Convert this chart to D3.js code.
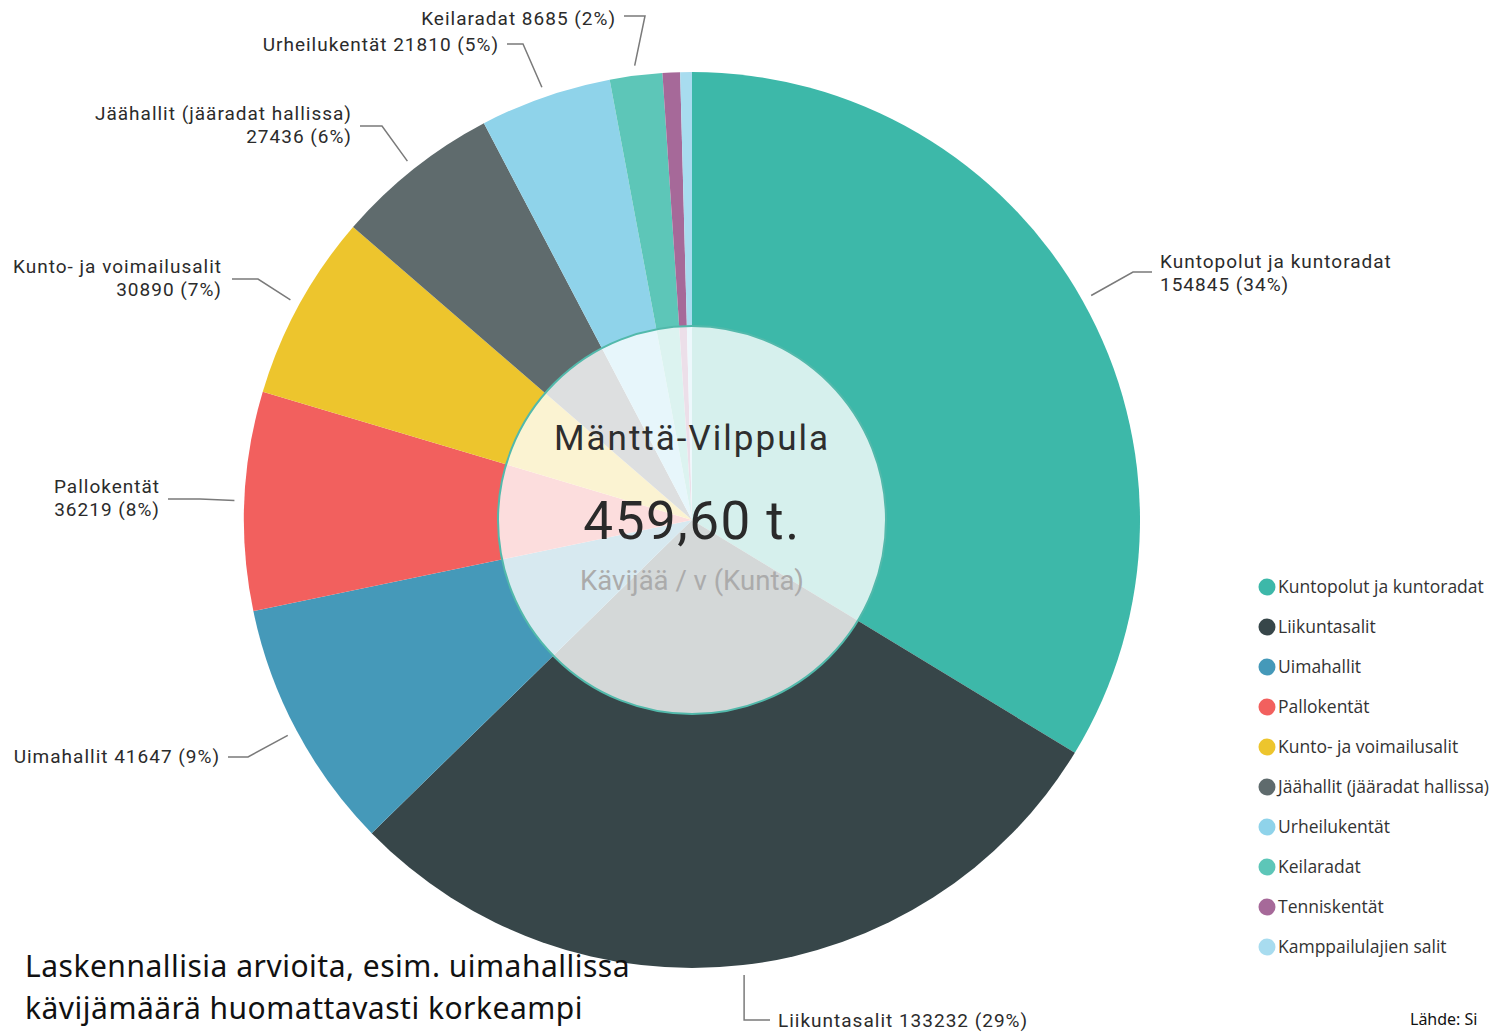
<!doctype html>
<html>
<head>
<meta charset="utf-8">
<script src="https://cdnjs.cloudflare.com/ajax/libs/d3/7.8.5/d3.min.js"></script>
<style>
  html, body { margin: 0; padding: 0; background: #fff; }
  svg { display: block; }
  .lbl { font-family: Roboto, 'DejaVu Sans Condensed', sans-serif; font-size: 19px; letter-spacing: 1px; fill: #2b2b2b; }
  .legend text { font-family: 'Open Sans', 'Noto Sans', sans-serif; font-size: 17.5px; fill: #333; }
</style>
</head>
<body>
<div id="graph"></div>
<script>
// data
const categories = ['Kuntopolut ja kuntoradat', 'Liikuntasalit', 'Uimahallit', 'Pallokentät',
  'Kunto- ja voimailusalit', 'Jäähallit (jääradat hallissa)', 'Urheilukentät', 'Keilaradat',
  'Tenniskentät', 'Kamppailulajien salit']
const values = [154845, 133232, 41647, 36219, 30890, 27436, 21810, 8685, 2900, 1936]
// label text split into lines (only the labelled slices)
const labelLines = [
  ['Kuntopolut ja kuntoradat', '154845 (34%)'],
  ['Liikuntasalit 133232 (29%)'],
  ['Uimahallit 41647 (9%)'],
  ['Pallokentät', '36219 (8%)'],
  ['Kunto- ja voimailusalit', '30890 (7%)'],
  ['Jäähallit (jääradat hallissa)', '27436 (6%)'],
  ['Urheilukentät 21810 (5%)'],
  ['Keilaradat 8685 (2%)']
]
const colors = ['#3db8a9', '#374649', '#4599b9', '#f2605e', '#edc52d', '#5f6b6d',
  '#8fd3ea', '#5dc6b8', '#a66999', '#a8dcef']
const centerTitle = 'Mänttä-Vilppula'
const centerValue = '459,60 t.'
const centerSub = 'Kävijää / v (Kunta)'
const note = ['Laskennallisia arvioita, esim. uimahallissa', 'kävijämäärä huomattavasti korkeampi']

// label layout: knee point, line end, text x / anchor, first line y
const labelPos = [
  { kx: 1133, ky: 272, ex: 1152, tx: 1160, anchor: 'start', ty: 261 },
  { kx: null, ky: 1020, ex: 770, tx: 778, anchor: 'start', ty: 1020 },
  { kx: 248, ky: 757, ex: 228, tx: 220, anchor: 'end', ty: 756 },
  { kx: 200, ky: 499, ex: 168, tx: 160, anchor: 'end', ty: 486 },
  { kx: 258, ky: 279, ex: 232, tx: 222, anchor: 'end', ty: 266 },
  { kx: 382, ky: 126, ex: 360, tx: 352, anchor: 'end', ty: 113 },
  { kx: 523, ky: 44, ex: 507, tx: 499, anchor: 'end', ty: 44 },
  { kx: 645, ky: 16, ex: 624, tx: 616, anchor: 'end', ty: 18 }
]

const W = 1494, H = 1033
const cx = 692, cy = 520, radius = 448, innerR = 194

const svg = d3.select('#graph').append('svg')
  .attr('width', W).attr('height', H)

const pie = d3.pie().sort(null).value(d => d)
const arcs = pie(values)
const arc = d3.arc().innerRadius(0).outerRadius(radius)
const outer = d3.arc().innerRadius(radius + 10).outerRadius(radius + 10)

const chart = svg.append('g').attr('transform', `translate(${cx},${cy})`)

chart.selectAll('path.slice')
  .data(arcs)
  .enter()
  .append('path')
  .attr('class', 'slice')
  .attr('d', arc)
  .attr('fill', (d, i) => colors[i])

// centre overlay
chart.append('circle')
  .attr('r', innerR)
  .attr('fill', '#fff')
  .attr('fill-opacity', 0.79)
  .attr('stroke', '#52b9ab')
  .attr('stroke-width', 2)

chart.append('text').text(centerTitle)
  .attr('y', -70).attr('text-anchor', 'middle')
  .style('font-family', 'Roboto, sans-serif').style('font-size', '35px')
  .style('fill', '#2e2e2e').style('letter-spacing', '2px')

chart.append('text').text(centerValue)
  .attr('y', 19).attr('text-anchor', 'middle')
  .style('font-family', 'Roboto, sans-serif').style('font-size', '53px')
  .style('fill', '#2a2a2a').style('letter-spacing', '1.5px')

chart.append('text').text(centerSub)
  .attr('y', 70).attr('text-anchor', 'middle')
  .style('font-family', 'Roboto, sans-serif').style('font-size', '27.5px')
  .style('fill', '#ababab')

// leader lines + labels
labelLines.forEach((lines, i) => {
  const p = labelPos[i]
  const c = outer.centroid(arcs[i])
  const sx = cx + c[0], sy = cy + c[1]
  const kx = p.kx === null ? sx : p.kx
  svg.append('polyline')
    .attr('points', `${sx},${sy} ${kx},${p.ky} ${p.ex},${p.ky}`)
    .attr('fill', 'none')
    .attr('stroke', '#7a7a7a')
    .attr('stroke-width', 1.5)

  const t = svg.append('text')
    .attr('class', 'lbl')
    .attr('text-anchor', p.anchor)
  lines.forEach((s, j) => {
    t.append('tspan')
      .attr('x', p.tx)
      .attr('y', p.ty + j * 23)
      .attr('dy', '0.35em')
      .text(s)
  })
})

// legend
const legend = svg.append('g').attr('class', 'legend')
const lg = legend.selectAll('g')
  .data(categories)
  .enter()
  .append('g')
  .attr('transform', (d, i) => `translate(1267,${587 + i * 40})`)
lg.append('circle').attr('r', 8.5).attr('fill', (d, i) => colors[i])
lg.append('text').attr('x', 11).attr('dy', '0.35em').text(d => d)

// note bottom-left
note.forEach((s, j) => {
  svg.append('text')
    .attr('x', 25).attr('y', 966 + j * 42).attr('dy', '0.35em')
    .style('font-family', "'Noto Sans', sans-serif")
    .style('font-size', '30px')
    .style('letter-spacing', '0.5px')
    .style('fill', '#111')
    .text(s)
})

svg.append('text')
  .attr('x', 1410).attr('y', 1025)
  .style('font-family', "'Noto Sans', sans-serif")
  .style('font-size', '16px').style('fill', '#111')
  .text('Lähde: Si')
</script>
</body>
</html>
